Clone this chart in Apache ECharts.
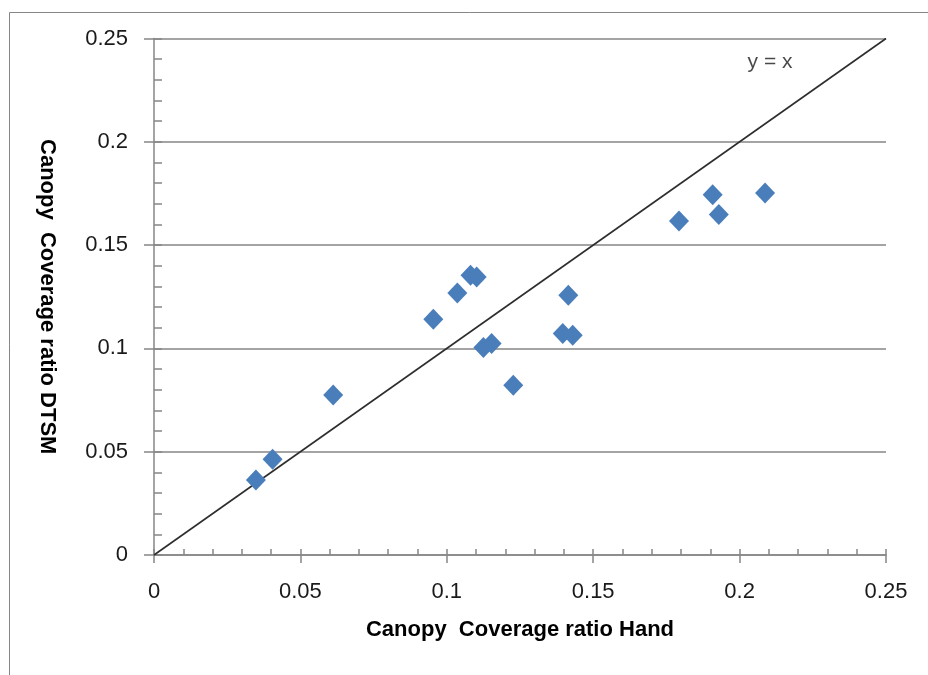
<!DOCTYPE html>
<html>
<head>
<meta charset="utf-8">
<script src="https://cdn.jsdelivr.net/npm/echarts@6/dist/echarts.min.js"></script>
<style>
html,body{margin:0;padding:0;background:#fff;}
#chart{width:928px;height:675px;}
</style>
</head>
<body>
<div id="chart"></div>
<script>
// Data
const handX = [0.0348, 0.0405, 0.0612, 0.0954, 0.1036, 0.1081, 0.1102, 0.1125, 0.1153, 0.1227, 0.1396, 0.1415, 0.1430, 0.1793, 0.1908, 0.1929, 0.2087];
const dtsmY = [0.0363, 0.0463, 0.0774, 0.1141, 0.1268, 0.1354, 0.1346, 0.1004, 0.1024, 0.0822, 0.1072, 0.1257, 0.1064, 0.1617, 0.1744, 0.1648, 0.1752];
const identityLine = [[0, 0], [0.25, 0.25]];
const identityLabel = 'y = x';
const identityLabelPos = [0.2104, 0.2384];
const xTitle = 'Canopy  Coverage ratio Hand';
const yTitle = 'Canopy  Coverage ratio DTSM';
const axisMin = 0, axisMax = 0.25, axisStep = 0.05;

const points = handX.map((x, i) => [x, dtsmY[i]]);
const gridCol = '#868686';
const labelFont = { fontFamily: 'Liberation Sans', fontSize: 22, color: '#1a1a1a' };

const chart = echarts.init(document.getElementById('chart'), null, { renderer: 'canvas' });
chart.setOption({
  animation: false,
  backgroundColor: '#fff',
  graphic: [{
    type: 'rect', left: 7, top: 10, z: -10,
    shape: { width: 1000, height: 1000 },
    style: { fill: 'none', stroke: gridCol, lineWidth: 1 }
  }],
  grid: { left: 154, right: 42, top: 38.5, bottom: 120, containLabel: false, outerBoundsMode: 'none' },
  xAxis: [{
    type: 'value', min: axisMin, max: axisMax, interval: axisStep, position: 'bottom',
    name: xTitle, nameLocation: 'middle', nameGap: 64,
    nameTextStyle: { fontFamily: 'Liberation Sans', fontSize: 22, fontWeight: 'bold', color: '#000' },
    axisLine: { show: true, lineStyle: { color: gridCol, width: 1.5 } },
    axisTick: { show: true, inside: true, length: 6, lineStyle: { color: gridCol, width: 1.5 } },
    minorTick: { show: true, splitNumber: 5, length: 6, lineStyle: { color: gridCol, width: 1.5 } },
    axisLabel: Object.assign({ margin: 26 }, labelFont),
    splitLine: { show: false }, minorSplitLine: { show: false }
  }, {
    type: 'value', min: axisMin, max: axisMax, interval: axisStep, position: 'bottom',
    axisLine: { show: false },
    axisTick: { show: true, inside: false, length: 8, lineStyle: { color: gridCol, width: 1.5 } },
    axisLabel: { show: false }, splitLine: { show: false }
  }],
  yAxis: [{
    type: 'value', min: axisMin, max: axisMax, interval: axisStep, position: 'left',
    name: yTitle, nameLocation: 'middle', nameGap: 96, nameRotate: -90,
    nameTextStyle: { fontFamily: 'Liberation Sans', fontSize: 22, fontWeight: 'bold', color: '#000' },
    axisLine: { show: true, lineStyle: { color: gridCol, width: 1.5 } },
    axisTick: { show: true, inside: true, length: 8, lineStyle: { color: gridCol, width: 1.5 } },
    minorTick: { show: true, splitNumber: 5, length: 8, lineStyle: { color: gridCol, width: 1.5 } },
    axisLabel: Object.assign({ margin: 26 }, labelFont),
    splitLine: { show: true, lineStyle: { color: gridCol, width: 1.5 } }
  }, {
    type: 'value', min: axisMin, max: axisMax, interval: axisStep, position: 'left',
    axisLine: { show: false },
    axisTick: { show: true, inside: false, length: 10, lineStyle: { color: gridCol, width: 1.5 } },
    axisLabel: { show: false }, splitLine: { show: false }
  }],
  series: [{
    type: 'line', xAxisIndex: 0, yAxisIndex: 0,
    data: identityLine, symbol: 'none', silent: true,
    lineStyle: { color: '#2e2e2e', width: 1.6 }, z: 2
  }, {
    type: 'scatter', xAxisIndex: 0, yAxisIndex: 0,
    data: points, symbol: 'diamond', symbolSize: [20, 21],
    itemStyle: { color: '#4A7EBB', opacity: 1 }, z: 3
  }, {
    type: 'scatter', xAxisIndex: 0, yAxisIndex: 0,
    data: [identityLabelPos], symbolSize: 1, itemStyle: { color: 'rgba(0,0,0,0)' },
    label: { show: true, position: 'inside', formatter: identityLabel,
      fontFamily: 'Liberation Sans', fontSize: 21, color: '#1a1a1a' }
  }]
});
</script>
</body>
</html>
